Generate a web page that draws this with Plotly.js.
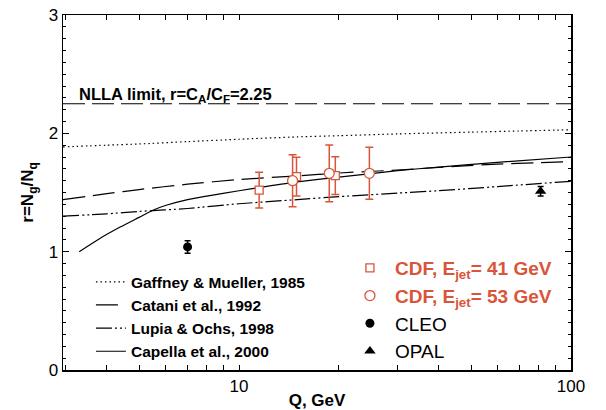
<!DOCTYPE html>
<html>
<head>
<meta charset="utf-8">
<script src="https://cdn.plot.ly/plotly-3.0.1.min.js"></script>
<style>html,body{margin:0;padding:0;background:#fff;}#chart{width:606px;height:410px;}</style>
</head>
<body>
<div id="chart"></div>
<script>
// ---- data ----
var nllaQ = [2.95, 100];
var nllaR = [2.25, 2.25];

var gaffneyQ = [2.95, 4, 5, 7, 10, 15, 20, 30, 50, 70, 100];
var gaffneyR = [1.885, 1.90, 1.91, 1.93, 1.95, 1.97, 1.98, 1.995, 2.01, 2.02, 2.03];

var cataniQ = [2.95, 4, 5, 7, 10, 15, 20, 30, 40, 60, 80, 100];
var cataniR = [1.44, 1.49, 1.525, 1.57, 1.61, 1.64, 1.665, 1.69, 1.712, 1.74, 1.752, 1.762];

var lupiaQ = [2.95, 4, 5, 7, 10, 15, 20, 30, 40, 60, 100];
var lupiaR = [1.30, 1.32, 1.34, 1.365, 1.405, 1.44, 1.465, 1.495, 1.515, 1.55, 1.595];

var capellaQ = [3.3, 3.8, 4.4, 5, 5.5, 6, 7, 8, 10, 12, 15, 20, 25, 30, 40, 60, 100];
var capellaR = [1.0, 1.11, 1.21, 1.29, 1.35, 1.39, 1.44, 1.47, 1.515, 1.55, 1.59, 1.63, 1.66, 1.685, 1.715, 1.755, 1.80];

var cdf41Q = [11.5, 14.9, 19.5];
var cdf41R = [1.52, 1.634, 1.643];
var cdf41Err = [0.152, 0.164, 0.16];

var cdf53Q = [14.5, 18.7, 24.7];
var cdf53R = [1.60, 1.662, 1.662];
var cdf53Err = [0.22, 0.24, 0.22];

var cleoQ = [7.0];
var cleoR = [1.04];
var cleoErr = [0.053];

var opalQ = [81];
var opalR = [1.51];
var opalErr = [0.04];

// x ticks: every integer 3..9, 10..90, 100; labels only on decades
var xTickVals = [3, 4, 5, 6, 7, 8, 9, 10, 20, 30, 40, 50, 60, 70, 80, 90, 100];
var xTickText = ['', '', '', '', '', '', '', '10', '', '', '', '', '', '', '', '', '100'];
var yTickVals = [0, 1, 2, 3];

// ---- styles ----
var RED = '#d9553a';
var FONT = 'Liberation Sans, Arial, Helvetica, sans-serif';

function curve(q, r, name, dash) {
  return {x: q, y: r, type: 'scatter', mode: 'lines', name: '<b>' + name + '</b>',
    line: {color: '#000', width: 1.2, dash: dash, shape: 'spline', smoothing: 0.6},
    legend: 'legend', hoverinfo: 'skip'};
}

var traces = [
  {x: nllaQ, y: nllaR, type: 'scatter', mode: 'lines', showlegend: false,
   line: {color: '#000', width: 1.2, dash: '22px,7px'}, hoverinfo: 'skip'},
  curve(gaffneyQ, gaffneyR, 'Gaffney &amp; Mueller, 1985', '1.5px,3px'),
  curve(cataniQ, cataniR, 'Catani et al., 1992', '22px,8px'),
  curve(lupiaQ, lupiaR, 'Lupia &amp; Ochs, 1998', '16px,3px,2px,3px,2px,3px'),
  curve(capellaQ, capellaR, 'Capella et al., 2000', 'solid'),
  {x: cdf41Q, y: cdf41R, type: 'scatter', mode: 'markers', legend: 'legend2',
   name: '<b><span style="color:' + RED + '">CDF, E<sub>jet</sub>= 41 GeV</span></b>',
   marker: {symbol: 'square', size: 8, color: '#fff', line: {color: RED, width: 1.3}},
   error_y: {type: 'data', array: cdf41Err, color: RED, thickness: 1.5, width: 4}},
  {x: cdf53Q, y: cdf53R, type: 'scatter', mode: 'markers', legend: 'legend2',
   name: '<b><span style="color:' + RED + '">CDF, E<sub>jet</sub>= 53 GeV</span></b>',
   marker: {symbol: 'circle', size: 10, color: '#fff', line: {color: RED, width: 1.3}},
   error_y: {type: 'data', array: cdf53Err, color: RED, thickness: 1.5, width: 4}},
  {x: cleoQ, y: cleoR, type: 'scatter', mode: 'markers', legend: 'legend2', name: 'CLEO',
   marker: {symbol: 'circle', size: 9, color: '#000'},
   error_y: {type: 'data', array: cleoErr, color: '#000', thickness: 1.5, width: 3}},
  {x: opalQ, y: opalR, type: 'scatter', mode: 'markers', legend: 'legend2', name: 'OPAL',
   marker: {symbol: 'triangle-up', size: 10, color: '#000'},
   error_y: {type: 'data', array: opalErr, color: '#000', thickness: 1.5, width: 3}}
];

var layout = {
  width: 606, height: 410,
  margin: {l: 63, r: 35, t: 15, b: 40},
  paper_bgcolor: '#fff', plot_bgcolor: '#fff',
  font: {family: FONT, color: '#000', size: 17},
  showlegend: true,
  xaxis: {
    type: 'log', range: [Math.log10(2.95), 2],
    tickmode: 'array', tickvals: xTickVals, ticktext: xTickText,
    ticks: 'inside', ticklen: 5, tickwidth: 1, tickcolor: '#000',
    showline: true, linecolor: '#000', linewidth: 1.5, mirror: 'ticks',
    showgrid: false, zeroline: false,
    tickfont: {size: 17},
    title: {text: '<b>Q, GeV</b>', font: {size: 17}, standoff: 2}
  },
  yaxis: {
    range: [0, 3], tickvals: yTickVals,
    ticks: 'inside', ticklen: 6, tickwidth: 1, tickcolor: '#000',
    showline: true, linecolor: '#000', linewidth: 1.5, mirror: 'ticks',
    showgrid: false, zeroline: false,
    tickfont: {size: 17},
    minor: {ticks: 'inside', ticklen: 3, dtick: 0.1, tickwidth: 1, tickcolor: '#000', showgrid: false},
    title: {text: '<b>r=N<sub>g</sub>/N<sub>q</sub></b>', font: {size: 17}, standoff: 10}
  },
  legend: {
    x: 0.055, y: 0.005, xanchor: 'left', yanchor: 'bottom',
    bgcolor: 'rgba(0,0,0,0)', font: {size: 15.5, family: FONT}, tracegroupgap: 0
  },
  legend2: {
    x: 0.555, y: 0.0, xanchor: 'left', yanchor: 'bottom', itemwidth: 40,
    bgcolor: 'rgba(0,0,0,0)', font: {size: 19, family: FONT}, tracegroupgap: 0
  },
  annotations: [
    {xref: 'paper', yref: 'paper', x: 0.027, y: 0.775, xanchor: 'left', yanchor: 'middle',
     showarrow: false, text: '<b>NLLA limit, r=C<sub>A</sub>/C<sub>F</sub>=2.25</b>',
     font: {size: 16.5, family: FONT}}
  ]
};

Plotly.newPlot('chart', traces, layout, {displayModeBar: false, staticPlot: true});
</script>
</body>
</html>
